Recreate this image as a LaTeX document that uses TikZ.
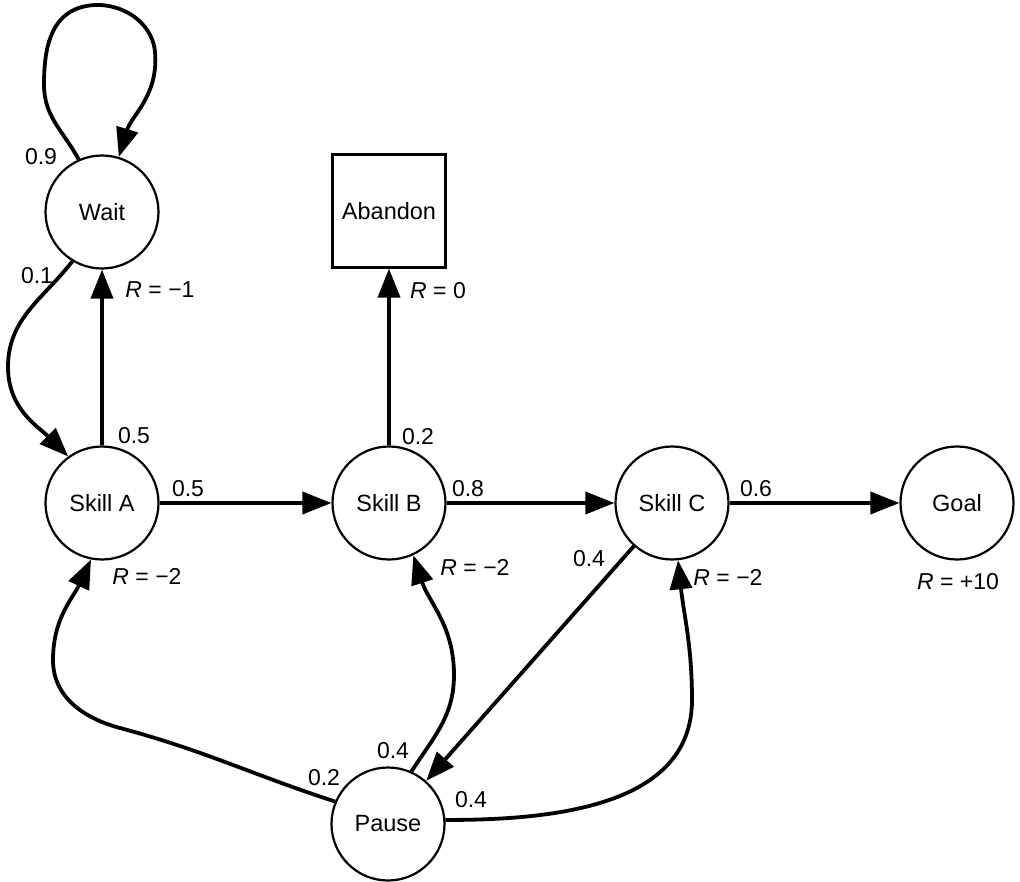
\documentclass[tikz,border=0pt]{standalone}
\usepackage{fontspec}
\setmainfont{Liberation Sans}
\usetikzlibrary{arrows.meta}
\begin{document}
\begin{tikzpicture}[x=1pt,y=1pt,
  state/.style={circle,draw,line width=2.2pt,minimum size=113pt,inner sep=0pt,font=\fontsize{23.5}{28}\selectfont},
  term/.style={rectangle,draw,line width=2.2pt,minimum width=113pt,minimum height=113pt,inner sep=0pt,font=\fontsize{23.5}{28}\selectfont},
  lbl/.style={inner sep=0pt,font=\fontsize{23}{27}\selectfont},
  edge/.style={line width=3.8pt,-{Triangle[length=29pt,width=22pt]}},
]
\useasboundingbox (0,0) rectangle (1020,-882);
\node[state] (wait) at (102,-212) {Wait};
\node[state] (skA) at (102,-503) {Skill A};
\node[state] (skB) at (389,-503) {Skill B};
\node[state] (skC) at (672,-503) {Skill C};
\node[state] (goal) at (957,-503) {Goal};
\node[state] (pause) at (388,-824) {Pause};
\node[term] (aband) at (389,-211) {Abandon};

% edges
\draw[edge] (wait.114) to[out=118,in=-90] (44,-85) to[out=90,in=195] (82,-7)
  to[out=15,in=95] (155,-52) to[out=-85,in=73] (wait.73);
\draw[edge] (wait.239) to[out=232,in=90] (8,-367) to[out=-90,in=135] (skA.126);
\draw[edge] (skA) -- (wait);
\draw[edge] (skA) -- (skB);
\draw[edge] (skB) -- (aband);
\draw[edge] (skB) -- (skC);
\draw[edge] (skC) -- (goal);
\draw[edge] (skC) -- (pause);
\draw[edge] (pause.157) to[out=162,in=-15] (120,-728) to[out=165,in=-90] (53,-660) to[out=90,in=245] (skA.259);
\draw[edge] (pause.66) to[out=57,in=-90] (454,-675) to[out=90,in=-72] (skB.295);
\draw[edge] (pause.4) to[out=0,in=-90] (692,-700) to[out=90,in=-84] (skC.276);

% labels
\node[lbl] (l09) at (41,-157) {0.9};
\node[lbl] (l01) at (37,-276) {0.1};
\node[lbl] (rw) at (160,-290) {{\itshape R} = −1};
\node[lbl] (l05a) at (134,-436) {0.5};
\node[lbl] (l05b) at (188,-489) {0.5};
\node[lbl] (ra) at (147,-576) {{\itshape R} = −2};
\node[lbl] (l02a) at (418,-437) {0.2};
\node[lbl] (l08) at (468,-489) {0.8};
\node[lbl] (rb) at (475,-567) {{\itshape R} = −2};
\node[lbl] (l04a) at (589,-559) {0.4};
\node[lbl] (l06) at (756,-489) {0.6};
\node[lbl] (rc) at (728,-577) {{\itshape R} = −2};
\node[lbl] (rg) at (958,-582) {{\itshape R} = +10};
\node[lbl] (rab) at (438,-291) {{\itshape R} = 0};
\node[lbl] (l02b) at (324,-778) {0.2};
\node[lbl] (l04b) at (393,-751) {0.4};
\node[lbl] (l04c) at (471,-800) {0.4};
\end{tikzpicture}
\end{document}
